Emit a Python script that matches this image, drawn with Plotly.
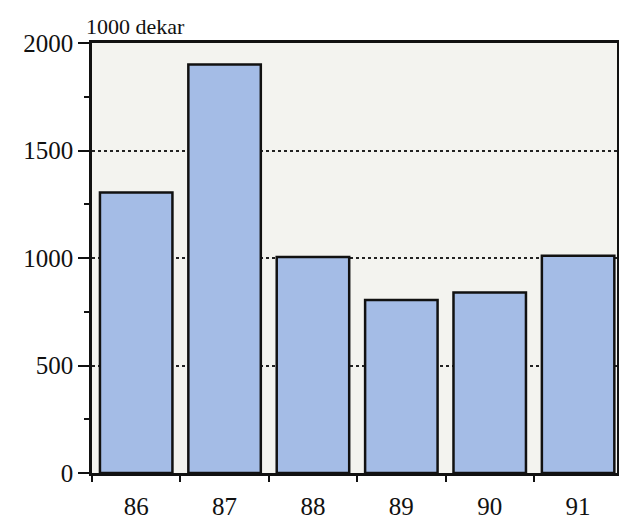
import plotly.graph_objects as go

years = ["86", "87", "88", "89", "90", "91"]
areas = [1305, 1900, 1005, 805, 840, 1010]
y_ticks = [0, 500, 1000, 1500, 2000]
unit_label = "1000 dekar"

fig = go.Figure()
fig.add_trace(go.Bar(
    x=years, y=areas, width=0.82,
    marker=dict(color="#a4bce6", line=dict(color="#111111", width=2.5)),
))

font_family = "Liberation Serif, Times New Roman, Times, serif"
fig.update_layout(
    width=619, height=522,
    margin=dict(l=92, r=2, t=43, b=49),
    paper_bgcolor="white",
    plot_bgcolor="#f3f3ef",
    showlegend=False,
    font=dict(family=font_family, color="#111111"),
)
fig.update_xaxes(
    type="category", range=[-0.5, 5.44], automargin=False,
    showline=True, linecolor="#111111", linewidth=2.5, mirror=True,
    ticks="outside", tickson="boundaries", ticklen=6, tickwidth=2, tickcolor="#111111",
    tickfont=dict(size=25, family=font_family), showgrid=False,
    ticklabelstandoff=9,
)
fig.update_yaxes(
    range=[0, 2000], tickvals=y_ticks, automargin=False,
    showline=True, linecolor="#111111", linewidth=2.5, mirror=True,
    ticks="outside", ticklen=11, tickwidth=2, tickcolor="#111111",
    tickfont=dict(size=25, family=font_family),
    showgrid=True, gridcolor="#222222", griddash="dot", gridwidth=1.5,
    zeroline=False,
    minor=dict(ticks="outside", ticklen=5, tickwidth=2, tickcolor="#111111", dtick=250, showgrid=False),
)
fig.add_annotation(
    text=unit_label, xref="paper", yref="paper", x=-0.016, y=1.0,
    xanchor="left", yanchor="bottom", yshift=2, showarrow=False,
    font=dict(size=22, family=font_family, color="#111111"),
)
fig.write_html(
    "out.html",
    config={"displayModeBar": False},
    post_script="document.body.style.margin='0';document.documentElement.style.overflow='hidden';",
)
